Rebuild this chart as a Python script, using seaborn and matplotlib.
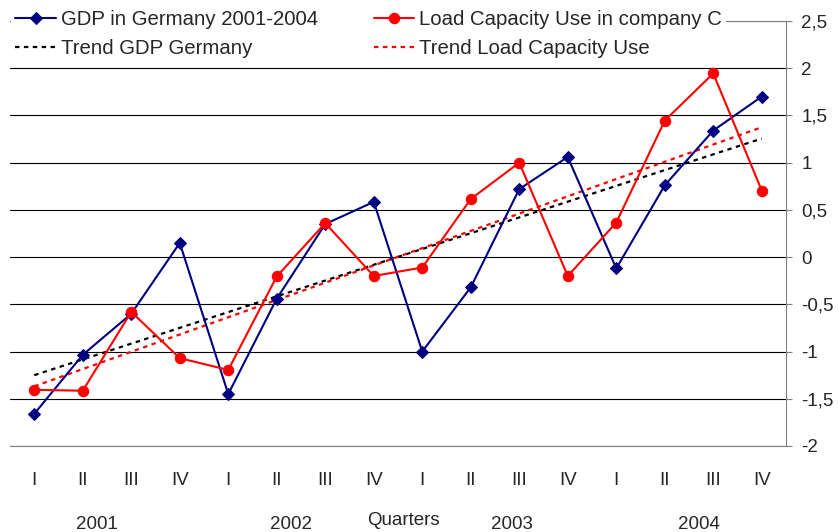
import numpy as np
import pandas as pd
import matplotlib.pyplot as plt
import matplotlib.transforms as mtransforms
import seaborn as sns

# Daten
quarters = ["I", "II", "III", "IV"] * 4
years = ["2001", "2002", "2003", "2004"]
gdp = [-1.66, -1.035, -0.60, 0.15, -1.45, -0.44, 0.35, 0.585,
       -1.00, -0.32, 0.72, 1.06, -0.12, 0.76, 1.34, 1.70]
load = [-1.405, -1.415, -0.58, -1.07, -1.195, -0.205, 0.36, -0.20,
        -0.11, 0.615, 1.00, -0.20, 0.365, 1.445, 1.945, 0.705]
y_ticks = [-2, -1.5, -1, -0.5, 0, 0.5, 1, 1.5, 2, 2.5]
y_tick_labels = ["-2", "-1,5", "-1", "-0,5", "0", "0,5", "1", "1,5", "2", "2,5"]

lbl_gdp = "GDP in Germany 2001-2004"
lbl_load = "Load Capacity Use in company C"
lbl_tgdp = "Trend GDP Germany"
lbl_tload = "Trend Load Capacity Use"

df = pd.DataFrame({"idx": np.arange(len(gdp)), "gdp": gdp, "load": load})

sns.set_style("white")
plt.rcParams["font.family"] = ["Liberation Sans", "DejaVu Sans"]

fig = plt.figure(figsize=(8.38, 5.32), dpi=100)
ax = fig.add_axes([10 / 838, 86 / 532, 776 / 838, 425 / 532])

# Trendlinien (lineare Regression)
sns.regplot(data=df, x="idx", y="gdp", scatter=False, ci=None, color="black", ax=ax,
            label=lbl_tgdp, line_kws=dict(lw=1.6, ls=(0, (2, 2))))
sns.regplot(data=df, x="idx", y="load", scatter=False, ci=None, color="red", ax=ax,
            label=lbl_tload, line_kws=dict(lw=1.6, ls=(0, (2, 2))))

# Zeitreihen
sns.lineplot(data=df, x="idx", y="gdp", color="#000080", marker="D", markersize=6.5,
             markeredgecolor="#000080", lw=1.5, label=lbl_gdp, ax=ax)
sns.lineplot(data=df, x="idx", y="load", color="red", marker="o", markersize=7.5,
             markeredgecolor="red", lw=1.5, label=lbl_load, ax=ax)

ax.set_xlabel("")
ax.set_ylabel("")
ax.set_xlim(-0.5, 15.5)
ax.set_ylim(-2, 2.5)

ax.set_axisbelow(True)
ax.grid(axis="y", color="black", lw=0.8)
ax.grid(axis="x", visible=False)

ax.set_xticks(np.arange(len(quarters)))
ax.set_xticklabels(quarters)
ax.set_xticks(np.arange(-0.5, len(quarters), 1), minor=True)
ax.tick_params(axis="x", which="major", length=0, pad=18.5, labelsize=13.5)
ax.tick_params(axis="x", which="minor", length=4.3, width=0.8, color="#808080", direction="out")

ax.yaxis.tick_right()
ax.set_yticks(y_ticks)
ax.set_yticklabels(y_tick_labels)
ax.tick_params(axis="y", length=4, width=0.8, color="#808080", direction="out", pad=7, labelsize=13.5)

ax.spines["left"].set_visible(False)
for s in ["top", "right", "bottom"]:
    ax.spines[s].set_color("#808080")
    ax.spines[s].set_linewidth(0.8)

# Jahre und Achsentitel
trans = mtransforms.blended_transform_factory(ax.transData, fig.transFigure)
year_pos = [1.3, 5.3, 9.85, 13.7]
for yr, xp in zip(years, year_pos):
    ax.text(xp, 0.031, yr, transform=trans, ha="center", va="top", fontsize=13.5)
ax.text(7.62, 0.0376, "Quarters", transform=trans, ha="center", va="top", fontsize=13.5)

# Legende
h, l = ax.get_legend_handles_labels()
hd = dict(zip(l, h))
order = [lbl_gdp, lbl_tgdp, lbl_load, lbl_tload]
ax.legend([hd[k] for k in order], order, ncol=2, loc="upper left",
          bbox_to_anchor=(0.0134, 0.989), bbox_transform=fig.transFigure,
          fontsize=14.7, frameon=True, fancybox=False, edgecolor="none",
          facecolor="white", framealpha=1, handlelength=2.0, handletextpad=0.25,
          columnspacing=2.7, labelspacing=0.5, borderpad=0.2, borderaxespad=0)

fig.savefig("out.png", dpi=100)
